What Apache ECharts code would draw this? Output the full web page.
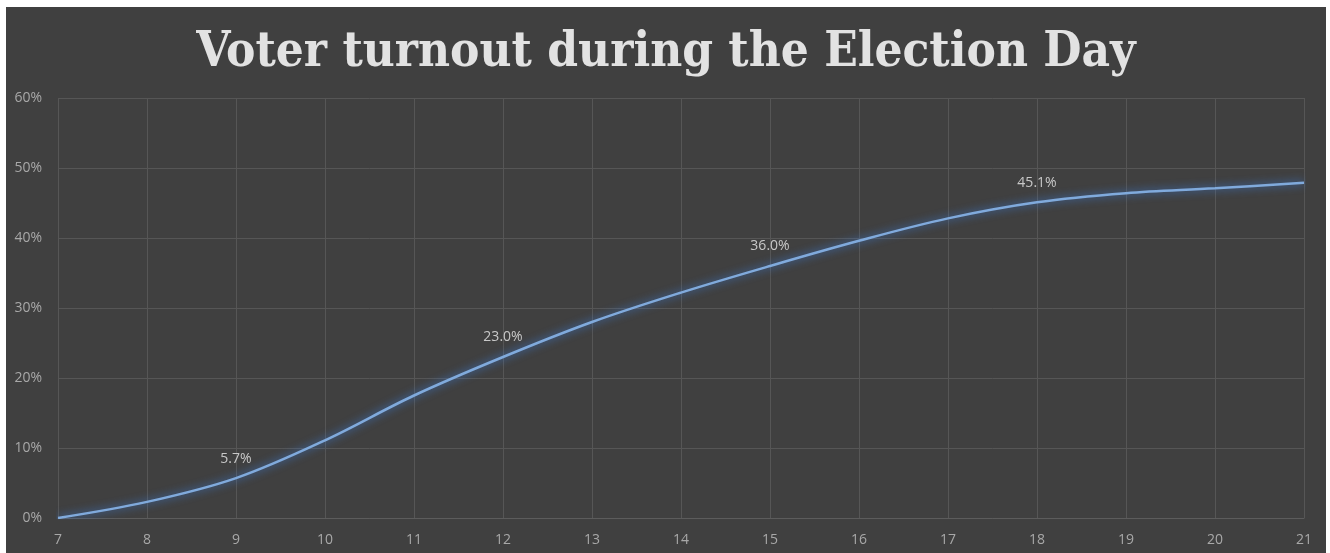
<!DOCTYPE html>
<html>
<head>
<meta charset="utf-8">
<script src="https://cdn.jsdelivr.net/npm/echarts@6/dist/echarts.min.js"></script>
<style>
html,body{margin:0;padding:0;background:#ffffff;width:1330px;height:553px;overflow:hidden;}
#chart{position:absolute;left:6px;top:7px;width:1320px;height:546px;}
</style>
</head>
<body>
<div id="chart"></div>
<script>
const titleText = 'Voter turnout during the Election Day';
const hours = [7, 8, 9, 10, 11, 12, 13, 14, 15, 16, 17, 18, 19, 20, 21];
const turnout = [0, 2.3, 5.7, 11.1, 17.5, 23.0, 28.0, 32.2, 36.0, 39.6, 42.8, 45.1, 46.4, 47.1, 47.9];
const labeledHours = [9, 12, 15, 18];
const yTicks = [0, 10, 20, 30, 40, 50, 60];

const seriesData = hours.map((h, i) => {
  const item = { value: [h, turnout[i]] };
  if (labeledHours.indexOf(h) >= 0) {
    item.label = { show: true };
  }
  return item;
});

const chart = echarts.init(document.getElementById('chart'));
chart.setOption({
  backgroundColor: '#404040',
  animation: false,
  title: {
    text: titleText,
    left: 'center',
    top: 17,
    textStyle: {
      fontFamily: 'DejaVu Serif Condensed',
      fontWeight: 'bold',
      fontSize: 49,
      color: '#e2e2e2'
    }
  },
  grid: { left: 52, right: 22, top: 91, bottom: 35, containLabel: false },
  xAxis: {
    type: 'value',
    min: hours[0],
    max: hours[hours.length - 1],
    interval: 1,
    axisLine: { show: true, lineStyle: { color: '#5c5c5c', width: 1 } },
    axisTick: { show: false },
    splitLine: { show: true, lineStyle: { color: '#565656', width: 1 } },
    axisLabel: { color: '#a8a8a8', fontSize: 14, fontFamily: 'Open Sans', margin: 15 }
  },
  yAxis: {
    type: 'value',
    min: yTicks[0],
    max: yTicks[yTicks.length - 1],
    interval: 10,
    axisLine: { show: false },
    axisTick: { show: false },
    splitLine: { show: true, lineStyle: { color: '#565656', width: 1 } },
    axisLabel: { color: '#a8a8a8', fontSize: 14, fontFamily: 'Open Sans', margin: 16, formatter: v => v + '%' }
  },
  series: [{
    type: 'line',
    data: seriesData,
    smooth: 0.35,
    symbol: 'circle',
    symbolSize: 1,
    showSymbol: true,
    itemStyle: { color: 'rgba(0,0,0,0)', borderWidth: 0 },
    lineStyle: {
      color: '#80aadc',
      width: 2.5,
      shadowColor: 'rgba(60,130,230,0.95)',
      shadowBlur: 9
    },
    label: {
      show: false,
      position: 'top',
      distance: 12,
      opacity: 1,
      color: '#c8c8c8',
      fontSize: 14,
      fontFamily: 'Open Sans',
      formatter: p => p.value[1].toFixed(1) + '%'
    }
  }]
});
</script>
</body>
</html>
